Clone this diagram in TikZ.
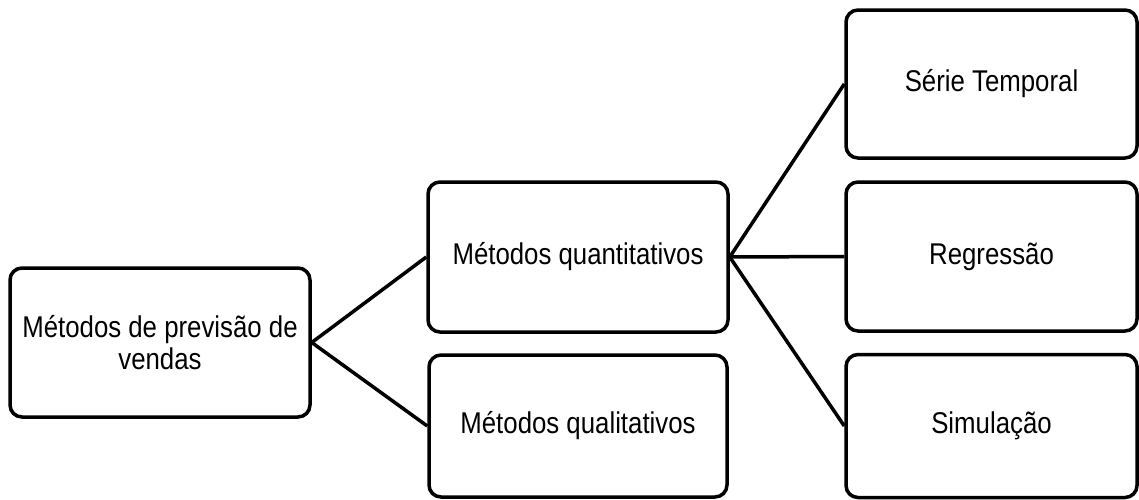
\documentclass[tikz,border=0pt]{standalone}
\usepackage{fontspec}
\setmainfont{Liberation Sans}[FakeStretch=0.86]
\begin{document}
\begin{tikzpicture}[x=1pt,y=-1pt,
  box/.style={draw=black, line width=3.5pt, rounded corners=12pt, fill=white,
    align=center, inner sep=0pt, font=\fontsize{30}{32}\selectfont},
  link/.style={draw=black, line width=3.5pt}]
  \useasboundingbox (0,0) rectangle (1139,499);

  % tree of forecasting methods
  \node[box, minimum width=300pt, minimum height=149pt] (root) at (160,342.5)
    {Métodos de previsão de\\vendas};
  \node[box, minimum width=300pt, minimum height=150pt] (quant) at (578,257)
    {Métodos quantitativos};
  \node[box, minimum width=298pt, minimum height=142pt] (qual) at (578,426)
    {Métodos qualitativos};
  \node[box, minimum width=291pt, minimum height=148pt] (serie) at (991.5,84)
    {Série Temporal};
  \node[box, minimum width=291pt, minimum height=149pt] (regr) at (991.5,256.5)
    {Regressão};
  \node[box, minimum width=291pt, minimum height=143pt] (simul) at (991.5,426)
    {Simulação};

  % connectors
  \draw[link] (root.east) -- (quant.west);
  \draw[link] (root.east) -- (qual.west);
  \draw[link] (quant.east) -- (serie.west);
  \draw[link] (quant.east) -- (regr.west);
  \draw[link] (quant.east) -- (simul.west);
\end{tikzpicture}
\end{document}
